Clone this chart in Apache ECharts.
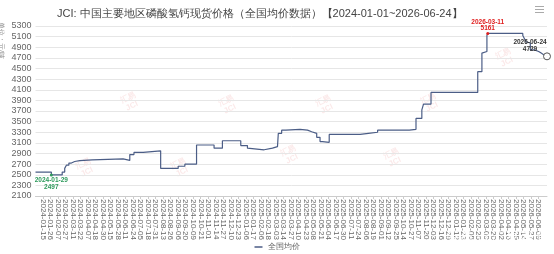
<!DOCTYPE html>
<html>
<head>
<meta charset="utf-8">
<script src="https://cdn.jsdelivr.net/npm/echarts@6/dist/echarts.min.js"></script>
<style>
html, body { margin: 0; padding: 0; background: #fff; }
#main { width: 554px; height: 254px; }
</style>
</head>
<body>
<div id="main"></div>
<script>
// 休市日（节假日区间）与调休上班日，用来排出交易日类目
var holidayRanges = [
    ['2024-01-01', '2024-01-01'], ['2024-02-09', '2024-02-17'], ['2024-04-04', '2024-04-06'],
    ['2024-05-01', '2024-05-05'], ['2024-06-10', '2024-06-10'], ['2024-09-15', '2024-09-17'],
    ['2024-10-01', '2024-10-07'],
    ['2025-01-01', '2025-01-01'], ['2025-01-28', '2025-02-04'], ['2025-04-04', '2025-04-06'],
    ['2025-05-01', '2025-05-05'], ['2025-05-31', '2025-06-02'], ['2025-10-01', '2025-10-08'],
    ['2026-01-01', '2026-01-03'], ['2026-02-15', '2026-02-23'], ['2026-04-04', '2026-04-06'],
    ['2026-05-01', '2026-05-05'], ['2026-06-19', '2026-06-21']
];
var makeupDays = [
    '2024-02-04', '2024-02-18', '2024-04-07', '2024-04-28', '2024-05-11', '2024-09-14',
    '2024-09-29', '2024-10-12', '2025-01-26', '2025-02-08', '2025-04-27', '2025-09-28',
    '2025-10-11', '2026-01-04', '2026-02-14', '2026-02-28', '2026-05-09'
];

// 价格变动点（元/吨），两点之间价格不变
var priceDates = [
    '2024-01-02', '2024-01-29', '2024-02-21', '2024-02-26', '2024-02-28', '2024-03-04',
    '2024-03-07', '2024-03-13', '2024-03-21', '2024-04-12', '2024-06-05', '2024-06-18',
    '2024-06-25', '2024-07-10', '2024-08-08', '2024-09-06', '2024-09-19', '2024-10-14',
    '2024-11-12', '2024-11-26', '2024-12-26', '2025-01-08', '2025-01-10', '2025-02-11',
    '2025-02-25', '2025-03-05', '2025-03-06', '2025-03-12', '2025-03-19', '2025-04-14',
    '2025-04-25', '2025-05-06', '2025-05-14', '2025-05-20', '2025-05-23', '2025-06-05',
    '2025-07-28', '2025-08-11', '2025-08-26', '2025-10-23', '2025-11-04', '2025-11-13',
    '2025-11-17', '2025-11-28', '2026-02-24', '2026-03-02', '2026-03-03', '2026-03-10',
    '2026-03-11', '2026-05-13', '2026-05-15', '2026-05-19', '2026-05-21', '2026-05-26',
    '2026-06-02', '2026-06-09', '2026-06-12', '2026-06-17', '2026-06-24'
];
var priceValues = [
    2550, 2497, 2550, 2620, 2680, 2720,
    2750, 2765, 2780, 2800, 2770, 2880,
    2920, 2950, 2620, 2660, 2700, 3060,
    3000, 3140, 3050, 3000, 2970, 3000,
    3030, 3050, 3280, 3340, 3355, 3340,
    3310, 3280, 3205, 3125, 3110, 3260,
    3280, 3300, 3340, 3355, 3560, 3720,
    3830, 4050, 4440, 4790, 4820, 5120,
    5161, 5120, 5060, 5000, 4980, 4850,
    4820, 4790, 4760, 4750, 4729
];

var titleText = 'JCI: 中国主要地区磷酸氢钙现货价格（全国均价数据）【2024-01-01~2026-06-24】';
var seriesName = '全国均价';
var yTicks = { min: 2100, max: 5300, step: 200 };

// 图中淡色水印的位置
var markX = [85, 180, 290, 393, 130, 228, 325, 430, 505];
var markY = [168, 168, 155, 158, 102, 105, 105, 103, 58];

function fmt(t) { return new Date(t).toISOString().slice(0, 10); }

function buildDays(start, end) {
    var off = {};
    holidayRanges.forEach(function (r) {
        for (var t = Date.parse(r[0]); t <= Date.parse(r[1]); t += 864e5) off[fmt(t)] = 1;
    });
    var days = [];
    for (var t = Date.parse(start); t <= Date.parse(end); t += 864e5) {
        var s = fmt(t), w = new Date(t).getUTCDay();
        if (makeupDays.indexOf(s) >= 0 || (w !== 0 && w !== 6 && !off[s])) days.push(s);
    }
    return days;
}

var days = buildDays('2024-01-01', '2026-06-24');
var lineData = priceDates.map(function (d, i) { return [d, priceValues[i]]; });

var minI = 0, maxI = 0;
priceValues.forEach(function (v, i) {
    if (v < priceValues[minI]) minI = i;
    if (v > priceValues[maxI]) maxI = i;
});
var lastI = priceValues.length - 1;

var lineColor = '#4b5d86';

var graphics = [
    {
        type: 'text', x: 4, y: 22, rotation: -Math.PI / 2,
        style: { text: '单位：元/吨', fontSize: 7, fill: '#888', textAlign: 'left', textVerticalAlign: 'top' }
    },
    { type: 'rect', shape: { x: 535, y: 6, width: 9, height: 1 }, style: { fill: '#aaa' } },
    { type: 'rect', shape: { x: 535, y: 9, width: 9, height: 1 }, style: { fill: '#aaa' } },
    { type: 'rect', shape: { x: 535, y: 12, width: 9, height: 1 }, style: { fill: '#aaa' } },
    {
        type: 'text', x: 446, y: 231, z: 100,
        style: {
            text: '头条 @汇易咨询', fontSize: 13.5, fill: '#fff',
            shadowColor: 'rgba(0,0,0,0.85)', shadowBlur: 3
        }
    }
];
markX.forEach(function (x, i) {
    graphics.push({
        type: 'text', x: x, y: markY[i], rotation: Math.PI / 7, z: -1, silent: true,
        style: {
            text: '汇易\nJCI', fontSize: 8, lineHeight: 9, fontWeight: 'bold',
            fill: 'rgba(232,120,120,0.16)', textAlign: 'center', textVerticalAlign: 'middle'
        }
    });
});

var myChart = echarts.init(document.getElementById('main'));
var option = {
    animation: false,
    title: {
        text: titleText,
        left: 52,
        top: 3,
        textStyle: { fontSize: 11, fontWeight: 'normal', color: '#444' }
    },
    legend: {
        data: [seriesName],
        left: 'center',
        top: 238,
        icon: 'rect',
        itemWidth: 8,
        itemHeight: 1.5,
        itemGap: 4,
        textStyle: { fontSize: 7.5, color: '#666' }
    },
    grid: { left: 35.5, right: 7, top: 26, bottom: 58 },
    xAxis: {
        type: 'category',
        data: days,
        boundaryGap: false,
        axisLine: { lineStyle: { color: '#ccc' } },
        axisTick: { show: true, interval: 8, length: 3, lineStyle: { color: '#ccc' } },
        axisLabel: { interval: 8, rotate: -90, fontSize: 8, color: '#666', margin: 3 }
    },
    yAxis: {
        type: 'value',
        min: yTicks.min,
        max: yTicks.max,
        interval: yTicks.step,
        axisLine: { show: false },
        axisTick: { show: false },
        axisLabel: { fontSize: 9, color: '#666', margin: 4, formatter: function (v) { return String(v); } },
        splitLine: { lineStyle: { color: '#e6e6e6' } }
    },
    series: [{
        name: seriesName,
        type: 'line',
        step: 'end',
        data: lineData,
        showSymbol: false,
        lineStyle: { color: lineColor, width: 1.2 },
        itemStyle: { color: lineColor },
        markPoint: {
            silent: true,
            data: [
                {
                    coord: [priceDates[minI], priceValues[minI]],
                    symbol: 'circle', symbolSize: 3,
                    itemStyle: { color: '#2e9a5c' },
                    label: {
                        position: 'bottom', distance: 1,
                        formatter: priceDates[minI] + '\n' + priceValues[minI],
                        color: '#2e9a5c', fontSize: 6.5, fontWeight: 'bold', lineHeight: 6.5
                    }
                },
                {
                    coord: [priceDates[maxI], priceValues[maxI]],
                    symbol: 'circle', symbolSize: 3,
                    itemStyle: { color: '#e02020' },
                    label: {
                        position: 'top', distance: 0,
                        formatter: priceDates[maxI] + '\n' + priceValues[maxI],
                        color: '#e02020', fontSize: 6.5, fontWeight: 'bold', lineHeight: 6.5
                    }
                },
                {
                    coord: [priceDates[lastI], priceValues[lastI]],
                    symbol: 'circle', symbolSize: 7,
                    itemStyle: { color: '#fff', borderColor: '#555', borderWidth: 1 },
                    label: {
                        position: 'top', distance: 0, offset: [-17, 0],
                        formatter: priceDates[lastI] + '\n' + priceValues[lastI],
                        color: '#333', fontSize: 6.5, fontWeight: 'bold', lineHeight: 6.5
                    }
                }
            ]
        }
    }],
    graphic: graphics
};
myChart.setOption(option);
</script>
</body>
</html>
